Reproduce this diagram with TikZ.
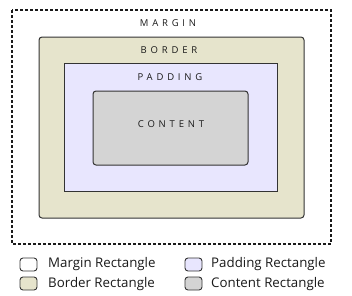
\documentclass[tikz,border=0pt]{standalone}
\usepackage{fontspec}
\setmainfont{Open Sans}
\newfontfamily\spacedfont[LetterSpace=40]{Open Sans}
\definecolor{borderfill}{HTML}{E6E4CC}
\definecolor{paddingfill}{HTML}{E8E6FE}
\definecolor{contentfill}{HTML}{D4D4D4}
\definecolor{edge}{HTML}{333333}
\begin{document}
\begin{tikzpicture}[x=1pt,y=-1pt,
  boxlabel/.style={font=\spacedfont\fontsize{9.5}{11}\selectfont, text=black!90, inner sep=0pt},
  legbox/.style={draw=edge, line width=0.9pt, rounded corners=3pt},
  legtext/.style={font=\fontsize{13.3}{15}\selectfont, anchor=west, inner sep=0pt, text=black!90}]
\useasboundingbox (0,0) rectangle (352,295);
% margin
\draw[line width=1.6pt, dash pattern=on 3pt off 2pt, draw=black!90] (12,10) rectangle (331,244);
\node[boxlabel] (lm) at (168,23) {MARGIN};
% border
\draw[fill=borderfill, draw=edge, line width=1pt, rounded corners=3pt] (39,37) rectangle (304,218);
\node[boxlabel] (lb) at (169,50) {BORDER};
% padding
\draw[fill=paddingfill, draw=edge, line width=1pt] (64,63) rectangle (277,191);
\node[boxlabel] (lp) at (170,77) {PADDING};
% content
\draw[fill=contentfill, draw=edge, line width=1pt, rounded corners=3pt] (93,91) rectangle (248,165);
\node[boxlabel] (lc) at (171,124) {CONTENT};
% legend
\draw[legbox, fill=white] (20,258) rectangle (37,271);
\node[legtext] (t1) at (48,264.5) {Margin Rectangle};
\draw[legbox, fill=borderfill] (20,277) rectangle (37,290);
\node[legtext] (t2) at (48,284) {Border Rectangle};
\draw[legbox, fill=paddingfill] (185,258) rectangle (202,271);
\node[legtext] (t3) at (211,264.5) {Padding Rectangle};
\draw[legbox, fill=contentfill] (185,277) rectangle (202,290);
\node[legtext] (t4) at (211,284) {Content Rectangle};
\end{tikzpicture}
\end{document}
